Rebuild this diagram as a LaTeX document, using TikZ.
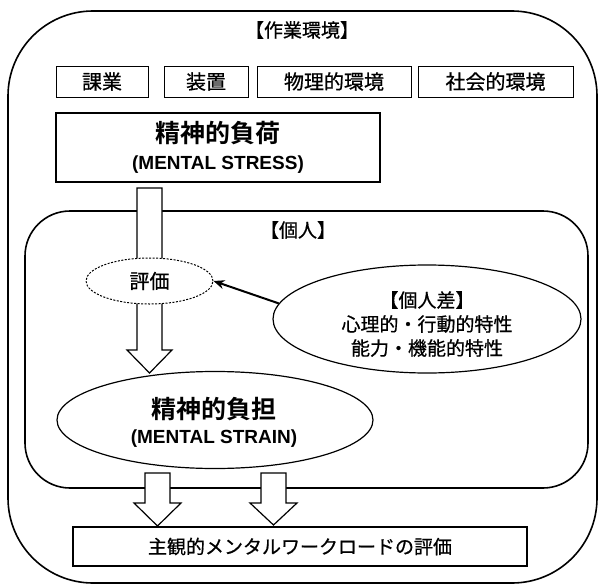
\documentclass[tikz,border=0pt]{standalone}
\usepackage{fontspec}
\setmainfont{Noto Sans CJK JP}[FakeBold=0.7]
\newfontfamily\jpbold{Noto Sans CJK JP Bold}
\newfontfamily\lat{Liberation Sans}
\usetikzlibrary{shapes.geometric,arrows.meta}
\tikzset{
  every node/.style={font=\fontsize{19}{24}\selectfont, inner sep=0pt},
  topbox/.style={draw, line width=1pt, minimum height=31pt, font=\fontsize{20}{24}\selectfont},
  frame/.style={draw, line width=1.6pt},
  hollow/.style={draw, line width=1.2pt, fill=white, line join=miter},
  jptitle/.style={font=\jpbold\fontsize{25}{25}\selectfont},
  entitle/.style={anchor=base, font=\lat\fontsize{19}{19}\selectfont\bfseries},
}
\begin{document}
\begin{tikzpicture}[x=1pt,y=-1pt]
\useasboundingbox (0,0) rectangle (599,586);
% outer frame
\draw[frame, rounded corners=85pt] (8,11) rectangle (597,583);
\node (env) at (302,30) {【作業環境】};
% top boxes
\node[topbox, minimum width=92pt]  (b1) at (102,81.5)   {課業};
\node[topbox, minimum width=84pt]  (b2) at (206,81.5)   {装置};
\node[topbox, minimum width=154pt] (b3) at (334,81.5)   {物理的環境};
\node[topbox, minimum width=155pt] (b4) at (495.5,81.5) {社会的環境};
% stress box
\node[draw, line width=1.2pt, minimum width=324pt, minimum height=69pt] (stress) at (218,147.5) {};
\node[jptitle] (stressjp) at (218,133) {精神的負荷};
\node[entitle] (stressen) at (218,169) {(MENTAL STRESS)};
% inner frame
\draw[frame, rounded corners=45pt] (25,211) rectangle (588,488);
\node (ind) at (298,230) {【個人】};
% hollow arrow stress -> strain
\draw[hollow] (137,188) -- (162,188) -- (162,350) -- (172,350) -- (149.5,373)
  -- (127,350) -- (137,350) -- cycle;
% appraisal ellipse
\node[ellipse, draw, line width=1pt, dash pattern=on 2pt off 1.5pt, fill=white,
  minimum width=127pt, minimum height=46pt, font=\fontsize{20}{24}\selectfont] (hyoka) at (149.5,281) {評価};
% individual difference ellipse
\node[ellipse, draw, line width=1.2pt, minimum width=308pt, minimum height=108pt] (kojin) at (427,319) {};
\node[align=center] (kojintext) at (427,324) {【個人差】\\心理的・行動的特性\\能力・機能的特性};
\draw[line width=2pt, -{Stealth[length=11pt, width=9pt]}] (kojin.174) -- (hyoka.east);
% strain ellipse
\node[ellipse, draw, line width=1.2pt, fill=white, minimum width=316pt, minimum height=97pt] (futan) at (215,420) {};
\node[jptitle] (futanjp) at (214,409) {精神的負担};
\node[entitle] (futanen) at (214,443) {(MENTAL STRAIN)};
% hollow arrows strain -> evaluation
\draw[hollow] (145,473) -- (170,473) -- (170,503) -- (181,503) -- (157.5,526)
  -- (134,503) -- (145,503) -- cycle;
\draw[hollow] (261,473) -- (286,473) -- (286,503) -- (297,503) -- (273.5,525)
  -- (250,503) -- (261,503) -- cycle;
% evaluation box
\node[draw, line width=1.2pt, minimum width=454pt, minimum height=39pt] (eval) at (300,546.5) {主観的メンタルワークロードの評価};
\end{tikzpicture}
\end{document}
